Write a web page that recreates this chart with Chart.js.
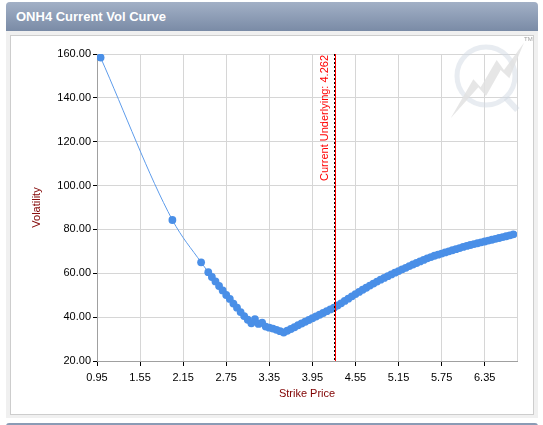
<!DOCTYPE html>
<html>
<head>
<meta charset="utf-8">
<title>ONH4 Current Vol Curve</title>
<script src="https://cdn.jsdelivr.net/npm/chart.js@4.4.1/dist/chart.umd.min.js"></script>
<style>
  html, body { margin: 0; padding: 0; background: #fff; }
  body { width: 543px; height: 425px; position: relative; overflow: hidden;
         font-family: Arial, "Liberation Sans", sans-serif; }
  .panel { position: absolute; left: 6px; top: 2px; width: 532px; height: 416px;
           background: #f0f0f0; border-radius: 4px 4px 0 0; }
  .head { height: 29px; line-height: 29px; padding-left: 10px; color: #fff;
          font-weight: bold; font-size: 13px; border-radius: 4px 4px 0 0;
          background: linear-gradient(#a2b0c6, #7a8ba6); }
  .box { position: absolute; left: 4px; top: 33px; width: 522px; height: 378px;
         background: #fff; border: 1px solid #cdcdcd; }
  .box canvas { position: absolute; left: 0; top: 0; }
  .next { position: absolute; left: 6px; top: 423px; width: 532px; height: 4px;
          background: #8a9bb5; border-radius: 3px 3px 0 0; }
</style>
</head>
<body>
<div class="panel">
  <div class="head">ONH4 Current Vol Curve</div>
  <div class="box"><canvas id="volCurve" width="522" height="378"></canvas></div>
</div>
<div class="next"></div>

<script>
/* ─── Datos ───────────────────────────────────────── */
const STRIKES = [
  1.00, 2.00, 2.40,
  2.50, 2.55, 2.60, 2.65, 2.70, 2.75, 2.80, 2.85, 2.90, 2.95,
  3.00, 3.05, 3.10, 3.15, 3.20, 3.25, 3.30, 3.35, 3.40, 3.45,
  3.50, 3.55, 3.60, 3.65, 3.70, 3.75, 3.80, 3.85, 3.90, 3.95,
  4.00, 4.05, 4.10, 4.15, 4.20, 4.25, 4.30, 4.35, 4.40, 4.45,
  4.50, 4.55, 4.60, 4.65, 4.70, 4.75, 4.80, 4.85, 4.90, 4.95,
  5.00, 5.05, 5.10, 5.15, 5.20, 5.25, 5.30, 5.35, 5.40, 5.45,
  5.50, 5.55, 5.60, 5.65, 5.70, 5.75, 5.80, 5.85, 5.90, 5.95,
  6.00, 6.05, 6.10, 6.15, 6.20, 6.25, 6.30, 6.35, 6.40, 6.45,
  6.50, 6.55, 6.60, 6.65, 6.70, 6.75,
];

const VOLS = [
  158.4, 84.3, 65.0,
  60.5, 58.3, 56.3, 54.2, 52.2, 50.1, 48.3, 46.2, 44.3, 42.3,
  40.5, 38.8, 37.2, 39.1, 36.9, 37.5, 35.7, 35.2, 34.8, 34.2,
  33.6, 33.0, 33.8, 34.6, 35.4, 36.3, 37.1, 37.9, 38.7, 39.5,
  40.3, 41.1, 41.9, 42.7, 43.5, 44.3, 45.3, 46.3, 47.4, 48.4,
  49.5, 50.5, 51.5, 52.5, 53.4, 54.4, 55.3, 56.2, 57.1, 57.9,
  58.7, 59.5, 60.3, 61.0, 61.8, 62.5, 63.3, 64.0, 64.7, 65.4,
  66.1, 66.8, 67.4, 68.0, 68.5, 69.0, 69.5, 70.0, 70.5, 71.0,
  71.5, 72.0, 72.5, 72.9, 73.3, 73.7, 74.1, 74.5, 74.9, 75.3,
  75.7, 76.1, 76.5, 76.9, 77.3, 77.7,
];

const X_TICKS = [0.95, 1.55, 2.15, 2.75, 3.35, 3.95, 4.55, 5.15, 5.75, 6.35];
const Y_TICKS = [20, 40, 60, 80, 100, 120, 140, 160];
const X_MIN = 0.95;
const X_MAX = 6.8;
const UNDERLYING = 4.262;

/* ─── Estilo ──────────────────────────────────────── */
const BLUE = '#4a8fe7';
const GRID = '#d6d6d6';
const AXIS = '#a0a0a0';
const TITLE_RED = '#800000';

Chart.defaults.font.family = "Arial, 'Liberation Sans', sans-serif";
Chart.defaults.font.size = 11;
Chart.defaults.color = '#000';

/* marca de agua + borde derecho del área */
const backdrop = {
  id: 'backdrop',
  beforeDatasetsDraw(chart) {
    const { ctx, chartArea: a } = chart;
    ctx.save();
    ctx.strokeStyle = GRID;
    ctx.lineWidth = 1;
    ctx.beginPath();
    ctx.moveTo(Math.round(a.right) + 0.5, a.top);
    ctx.lineTo(Math.round(a.right) + 0.5, a.bottom);
    ctx.stroke();

    // logo tenue arriba a la derecha
    const ox = a.right - 137, oy = a.top - 34;
    const P = (cx, cy) => [ox + cx / 3, oy + cy / 3];
    ctx.strokeStyle = 'rgba(210,218,228,0.5)';
    ctx.lineWidth = 5;
    ctx.beginPath();
    ctx.arc(...P(318, 168), 29, 0, Math.PI * 2);
    ctx.stroke();
    ctx.lineWidth = 6;
    ctx.beginPath();
    ctx.moveTo(...P(378, 234));
    ctx.lineTo(...P(412, 270));
    ctx.stroke();
    ctx.fillStyle = 'rgba(226,226,226,0.85)';
    ctx.beginPath();
    [[212, 295], [280, 178], [302, 202], [350, 120], [372, 150], [432, 68],
     [388, 175], [362, 150], [318, 228], [295, 202]].forEach(([cx, cy], i) => {
      const [px, py] = P(cx, cy);
      i ? ctx.lineTo(px, py) : ctx.moveTo(px, py);
    });
    ctx.closePath();
    ctx.fill();
    ctx.fillStyle = '#a0a0a0';
    ctx.font = '6px Arial';
    ctx.fillText('TM', ...P(432, 62));
    ctx.restore();
  },
};

/* línea del subyacente actual */
const underlying = {
  id: 'underlying',
  afterDatasetsDraw(chart) {
    const { ctx, chartArea: a, scales: { x } } = chart;
    const px = Math.round(x.getPixelForValue(UNDERLYING));
    ctx.save();
    ctx.lineWidth = 1;
    ctx.strokeStyle = '#ff0000';
    ctx.beginPath();
    ctx.moveTo(px + 0.5, a.top);
    ctx.lineTo(px + 0.5, a.bottom);
    ctx.stroke();
    ctx.strokeStyle = '#000';
    ctx.setLineDash([2, 2]);
    ctx.beginPath();
    ctx.moveTo(px - 0.5, a.top);
    ctx.lineTo(px - 0.5, a.bottom);
    ctx.stroke();
    ctx.setLineDash([]);
    ctx.translate(px - 10, a.top + 1);
    ctx.rotate(-Math.PI / 2);
    ctx.fillStyle = '#ff0000';
    ctx.font = "11px Arial, 'Liberation Sans', sans-serif";
    ctx.textAlign = 'right';
    ctx.textBaseline = 'middle';
    ctx.fillText('Current Underlying: ' + UNDERLYING, 0, 0);
    ctx.restore();
  },
};

new Chart(document.getElementById('volCurve'), {
  type: 'line',
  data: {
    datasets: [{
      label: 'Volatility',
      data: STRIKES.map((s, i) => ({ x: s, y: VOLS[i] })),
      borderColor: '#5e9ceb',
      borderWidth: 1,
      backgroundColor: BLUE,
      pointBackgroundColor: BLUE,
      pointBorderWidth: 0,
      pointRadius: 3.9,
      cubicInterpolationMode: 'monotone',
      fill: false,
    }],
  },
  options: {
    responsive: false,
    animation: false,
    layout: { padding: { top: 18, right: 16, left: 0, bottom: 0 } },
    plugins: {
      legend: { display: false },
      tooltip: { enabled: false },
    },
    scales: {
      x: {
        type: 'linear',
        min: X_MIN,
        max: X_MAX,
        afterBuildTicks: s => { s.ticks = X_TICKS.map(v => ({ value: v })); },
        afterFit: s => { s.height = 53; },
        ticks: {
          autoSkip: false,
          maxRotation: 0,
          padding: 5,
          callback: v => Number(v).toFixed(2),
        },
        grid: { color: GRID, tickColor: '#000', tickLength: 5 },
        border: { color: AXIS },
        title: {
          display: true,
          text: 'Strike Price',
          color: TITLE_RED,
          font: { size: 11 },
          padding: { top: 0, bottom: 13 },
        },
      },
      y: {
        min: 20,
        max: 160,
        afterBuildTicks: s => { s.ticks = Y_TICKS.map(v => ({ value: v })); },
        afterFit: s => { s.width = 86; },
        ticks: {
          padding: 2,
          callback: v => Number(v).toFixed(2),
        },
        grid: { color: GRID, tickColor: '#000', tickLength: 4 },
        border: { color: AXIS },
        title: {
          display: true,
          text: 'Volatility',
          color: TITLE_RED,
          font: { size: 11 },
          padding: { top: 19, bottom: 0 },
        },
      },
    },
  },
  plugins: [backdrop, underlying],
});
</script>
</body>
</html>
